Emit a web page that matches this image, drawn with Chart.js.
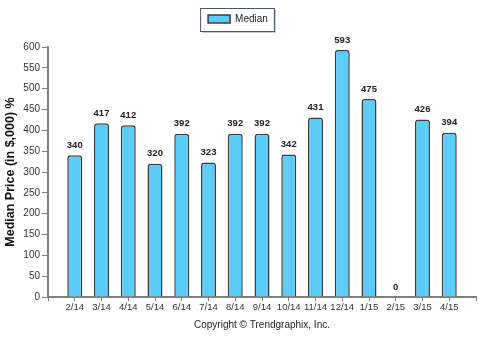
<!DOCTYPE html>
<html lang="en">
<head>
  <meta charset="UTF-8">
  <title>Median Price</title>
  <script src="https://cdn.jsdelivr.net/npm/chart.js"></script>
  <style>
    html, body { margin: 0; padding: 0; background: #fff; }
    .chart-box { position: relative; width: 483px; height: 341px; }
  </style>
</head>
<body>
  <div class="chart-box">
    <canvas id="priceChart" width="483" height="341"></canvas>
  </div>

  <script>
    // data
    const months = ['2/14', '3/14', '4/14', '5/14', '6/14', '7/14', '8/14', '9/14',
                    '10/14', '11/14', '12/14', '1/15', '2/15', '3/15', '4/15'];
    const medianPrice = [340, 417, 412, 320, 392, 323, 392, 392, 342, 431, 593, 475, 0, 426, 394];
    const yTicks = [0, 50, 100, 150, 200, 250, 300, 350, 400, 450, 500, 550, 600];

    // one empty slot on each side so the axis runs past the first and last bar
    const labels = [''].concat(months, ['']);
    const values = [null].concat(medianPrice, [null]);

    const barFill = '#5ccdf8';
    const barEdge = '#3c3c3c';
    const axisGray = '#7f7f7f';

    // boxed legend like the original, plus some room under it
    const legendBox = {
      id: 'legendBox',
      beforeLayout(chart) {
        const lg = chart.legend;
        if (lg && !lg._extra) {
          const fit = lg.fit;
          lg.fit = function () { fit.call(this); this.height += 13; };
          lg._extra = true;
        }
      },
      beforeDraw(chart) {
        const lg = chart.legend;
        if (!lg || !lg.legendHitBoxes.length) return;
        const hb = lg.legendHitBoxes[0];
        const x = hb.left - 8, y = 8, w = hb.width + 14, h = 23;
        const c = chart.ctx;
        c.save();
        c.fillStyle = '#c8c8c8';
        c.fillRect(x + 2, y + 2, w, h);
        c.fillStyle = '#fff';
        c.fillRect(x, y, w, h);
        c.strokeStyle = '#4a5566';
        c.lineWidth = 1;
        c.strokeRect(x + 0.5, y + 0.5, w, h);
        c.restore();
      }
    };

    // value labels over the bars
    const barValues = {
      id: 'barValues',
      afterDatasetsDraw(chart) {
        const c = chart.ctx;
        const meta = chart.getDatasetMeta(0);
        c.save();
        c.font = 'bold 9.5px "Liberation Sans", Arial, sans-serif';
        c.fillStyle = '#222';
        c.textAlign = 'center';
        c.textBaseline = 'middle';
        meta.data.forEach((bar, i) => {
          const v = values[i];
          if (v === null) return;
          c.fillText(String(v), bar.x, bar.y - 10);
        });
        c.restore();
      }
    };

    const ctx = document.getElementById('priceChart').getContext('2d');
    new Chart(ctx, {
      type: 'bar',
      data: {
        labels: labels,
        datasets: [{
          label: 'Median',
          data: values,
          backgroundColor: barFill,
          borderColor: barEdge,
          borderWidth: (c) => (c.raw ? 1.5 : 0),
          borderSkipped: 'bottom',
          borderRadius: { topLeft: 3, topRight: 3 },
          barPercentage: 0.56,
          categoryPercentage: 1
        }]
      },
      options: {
        responsive: false,
        animation: false,
        layout: { padding: { top: 0, right: 7, bottom: 10, left: 0 } },
        plugins: {
          tooltip: { enabled: false },
          legend: {
            display: true,
            position: 'top',
            labels: {
              boxWidth: 22,
              boxHeight: 8,
              padding: 14,
              color: '#222',
              font: { family: '"Liberation Sans", Arial, sans-serif', size: 10 },
              generateLabels: (chart) =>
                Chart.defaults.plugins.legend.labels.generateLabels(chart).map((l) =>
                  Object.assign(l, { lineWidth: 1.5, strokeStyle: barEdge, fillStyle: barFill }))
            }
          }
        },
        scales: {
          x: {
            offset: false,
            afterFit: (s) => { s.height = 34; },
            grid: { display: true, drawOnChartArea: false, offset: false, tickLength: 4, color: axisGray },
            border: { color: axisGray, width: 2 },
            ticks: {
              autoSkip: false,
              maxRotation: 0,
              padding: 1,
              color: '#333',
              font: { family: '"Liberation Sans", Arial, sans-serif', size: 9.5 }
            },
            title: {
              display: true,
              text: 'Copyright \u00a9 Trendgraphix, Inc.',
              color: '#222',
              padding: { top: 2, bottom: 0 },
              font: { family: '"Liberation Sans", Arial, sans-serif', size: 10 }
            }
          },
          y: {
            min: 0,
            max: 600,
            afterBuildTicks: (s) => { s.ticks = yTicks.map((v) => ({ value: v })); },
            afterFit: (s) => { s.width = 48; },
            grid: { display: true, drawOnChartArea: false, tickLength: 6, color: axisGray },
            border: { color: axisGray, width: 2 },
            ticks: {
              padding: 2,
              color: '#333',
              font: { family: '"Liberation Sans", Arial, sans-serif', size: 10 }
            },
            title: {
              display: true,
              text: 'Median Price (in $,000) %',
              color: '#111',
              padding: { top: 3, bottom: 4 },
              font: { family: '"Liberation Sans", Arial, sans-serif', size: 12.5, weight: 'bold' }
            }
          }
        }
      },
      plugins: [legendBox, barValues]
    });
  </script>
</body>
</html>
